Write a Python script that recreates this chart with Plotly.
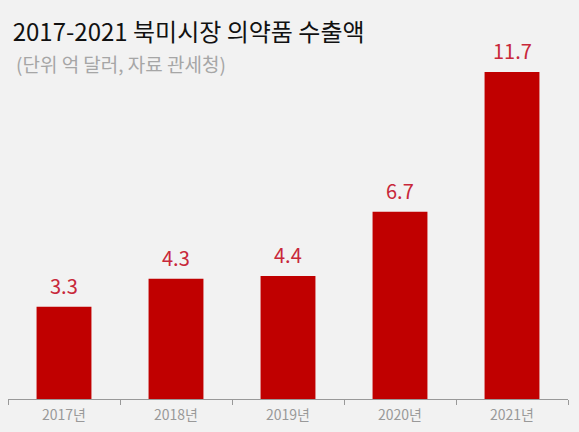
import plotly.graph_objects as go

years = ["2017년", "2018년", "2019년", "2020년", "2021년"]
values = [3.3, 4.3, 4.4, 6.7, 11.7]
labels = ["3.3", "4.3", "4.4", "6.7", "11.7"]

FONT = "Noto Sans CJK KR"
fig = go.Figure()
fig.add_trace(go.Bar(
    x=years, y=values,
    marker=dict(color="#c00000", line=dict(width=0)),
    width=0.49,
    hoverinfo="skip",
))
for xv, yv, t in zip(years, values, labels):
    fig.add_annotation(x=xv, y=yv, text=t, showarrow=False, yanchor="bottom",
                       yshift=5, font=dict(family=FONT, size=20, color="#c8283a", weight="normal"))

fig.update_layout(
    width=579, height=432,
    margin=dict(l=8, r=11, t=50, b=33),
    paper_bgcolor="#f2f2f2", plot_bgcolor="#f2f2f2",
    showlegend=False,
    bargap=0.51,
    title=dict(text="2017-2021 북미시장 의약품 수출액", x=0.022, xanchor="left", y=0.925, yanchor="middle",
               font=dict(family=FONT, size=24, color="#111111", weight="normal")),
)
fig.add_annotation(xref="paper", yref="paper", x=0.0107, y=1.0, xanchor="left", yanchor="middle",
                   text="(단위 억 달러, 자료 관세청)", showarrow=False, yshift=-13,
                   font=dict(family=FONT, size=19, color="#a6a6a6"))
fig.update_xaxes(type="category", tickson="boundaries", ticks="outside", ticklen=5,
                 tickcolor="#999999", showline=True, linecolor="#999999", linewidth=1,
                 tickfont=dict(family=FONT, size=14, color="#999999"), showgrid=False,
                 ticklabelstandoff=3, range=[-0.5, 4.5])
fig.update_yaxes(range=[0, 12.49], visible=False, showgrid=False, zeroline=False)
fig.write_html("out.html")
